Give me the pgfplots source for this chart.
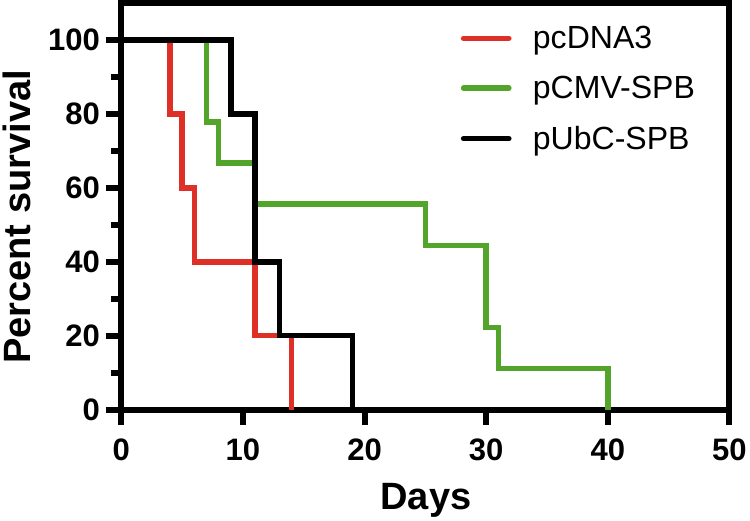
\documentclass[border=0pt]{standalone}
\usepackage{pgfplots}
\pgfplotsset{compat=1.18}
\usepackage{fontspec}
\setmainfont{Liberation Sans}
\definecolor{cred}{RGB}{222,48,38}
\definecolor{cgreen}{RGB}{82,164,42}
\begin{document}
\begin{tikzpicture}
\begin{axis}[
  width=605.2bp, height=404.7bp, scale only axis,
  xmin=0, xmax=50, ymin=0, ymax=110,
  clip=false,
  line width=6bp,
  axis line style={line width=6bp},
  xtick={0,10,...,50}, ytick={0,20,...,100},
  minor y tick num=1,
  xtick pos=left, ytick pos=left,
  tick align=outside,
  major tick length=15bp, minor tick length=10bp,
  tick style={line width=6bp, black},
  major tick style={line width=6bp, black},
  minor tick style={line width=6bp, black},
  /pgf/number format/assume math mode=true,
  tick label style={font=\bfseries\fontsize{31}{31}\selectfont},
  xticklabel style={yshift=-8bp},
  xlabel={Days}, ylabel={Percent survival},
  label style={font=\bfseries\fontsize{38}{38}\selectfont},
  xlabel style={at={(axis description cs:0.501,-0.245)}, anchor=base},
  ylabel style={at={(axis description cs:-0.171,0.474)}, anchor=center, rotate=0},
  legend style={at={(0.553,0.955)}, anchor=north west, draw=none, fill=none,
    font=\fontsize{32}{32}\selectfont, row sep=22bp, cells={anchor=west},
    inner sep=0pt},
  legend image code/.code={\draw[line width=5.5bp, line cap=round, #1] (3bp,0bp) -- (48bp,0bp); \path[draw=none] (0bp,0bp) -- (70bp,0bp);},
  every axis plot/.append style={line width=5.5bp, const plot},
]
\addplot[cred] coordinates {(0,100) (4,80) (5,60) (6,40) (11,20) (14,0)};
\addplot[cgreen] coordinates {(0,100) (7,77.8) (8,66.7) (11,55.6) (25,44.4) (30,22.2) (31,11.1) (40,0)};
\addplot[black] coordinates {(0,100) (9,80) (11,40) (13,20) (19,0)};
\legend{pcDNA3, pCMV-SPB, pUbC-SPB}
\end{axis}
\end{tikzpicture}
\end{document}
